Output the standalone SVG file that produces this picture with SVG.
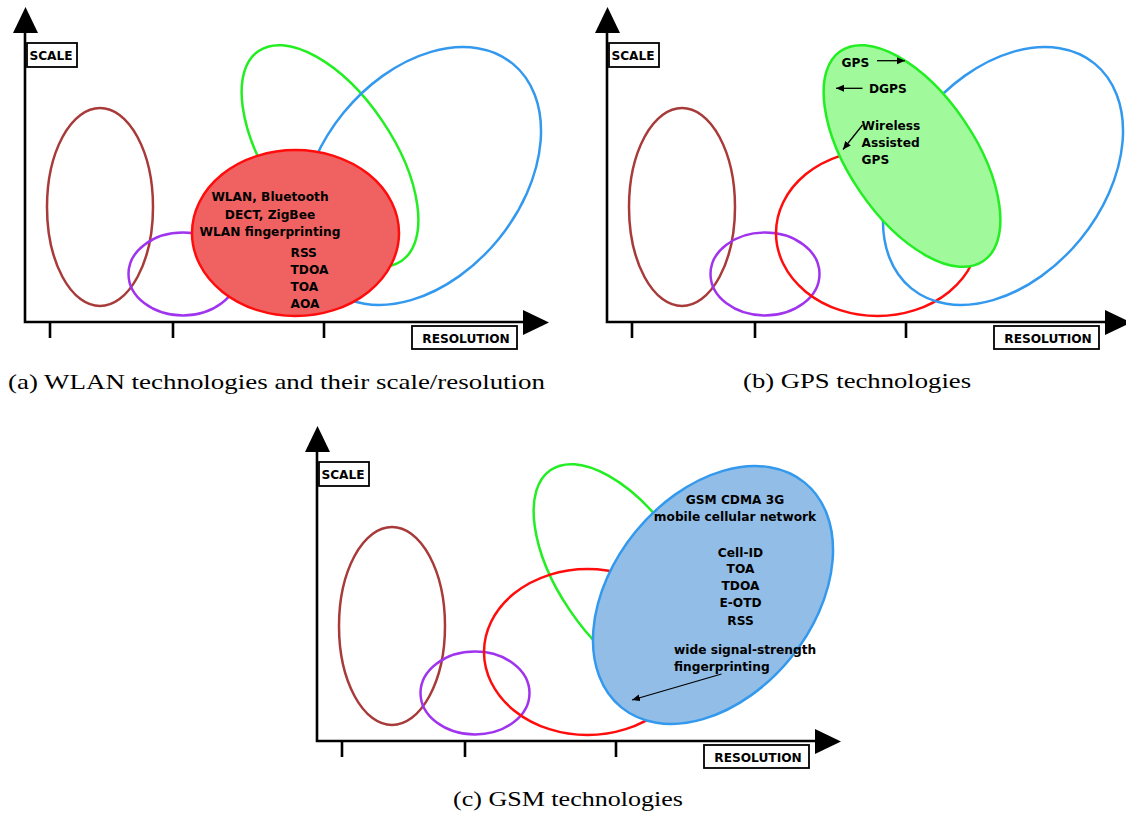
<svg xmlns="http://www.w3.org/2000/svg" width="1126" height="814" viewBox="0 0 1126 814">
  <style>
    .axis { stroke: #000; stroke-width: 2.6; fill: none; }
    .head { fill: #000; stroke: none; }
    .box { fill: #fff; stroke: #000; stroke-width: 1.8; }
    .lbl { font-family: "DejaVu Sans", "Liberation Sans", sans-serif; font-weight: bold; font-size: 12.2px; fill: #000; }
    .cap { font-family: "Liberation Serif", "DejaVu Serif", serif; font-size: 22px; fill: #000; }
    .e { fill: none; stroke-width: 2.5; }
    .brown { stroke: #a83a3a; }
    .purple { stroke: #a034ee; }
    .red { stroke: #ff0d0d; }
    .green { stroke: #22ee22; }
    .blue { stroke: #3399ee; }
    .ptr { stroke: #000; stroke-width: 1.3; fill: none; marker-end: url(#tip); }
  </style>
  <defs>
    <marker id="tip" markerUnits="userSpaceOnUse" markerWidth="9" markerHeight="8" refX="8" refY="3.5" orient="auto">
      <path d="M0,0 L8,3.5 L0,7 z" fill="#000"/>
    </marker>
    <!-- shared frame: axes, ticks and axis labels -->
    <g id="frame">
      <path class="axis" d="M25,32 V323 M23.7,322 H525 M50,322 V338 M173,322 V338 M324,322 V338"/>
      <path class="head" d="M13,33 L38,33 L25.5,7 z"/>
      <path class="head" d="M523,310 L523,335 L549,322.5 z"/>
      <rect class="box" x="27" y="43" width="50" height="24"/>
      <text class="lbl" x="51" y="60" text-anchor="middle">SCALE</text>
      <rect class="box" x="412" y="326" width="105" height="23"/>
      <text class="lbl" x="466" y="343" text-anchor="middle">RESOLUTION</text>
    </g>
  </defs>

  <!-- (a) WLAN -->
  <g id="panel-a">
    <use href="#frame"/>
    <ellipse id="a-brown" class="e brown" cx="100" cy="207" rx="53" ry="99"/>
    <ellipse id="a-purple" class="e purple" cx="183" cy="274" rx="54.5" ry="41.5"/>
    <ellipse id="a-green" class="e green" cx="330" cy="156" rx="127" ry="63" transform="rotate(55.8 330 156)"/>
    <ellipse id="a-blue" class="e blue" cx="421" cy="176" rx="145" ry="100" transform="rotate(-50.8 421 176)"/>
    <g id="a-wlan">
      <ellipse class="e red" cx="295.5" cy="233" rx="103.5" ry="83" style="fill:#f06262"/>
      <text class="lbl" x="270" y="201" text-anchor="middle">WLAN, Bluetooth</text>
      <text class="lbl" x="270" y="218.5" text-anchor="middle">DECT, ZigBee</text>
      <text class="lbl" x="270" y="235.5" text-anchor="middle">WLAN fingerprinting</text>
      <text class="lbl" x="290.5" y="256.5">RSS</text>
      <text class="lbl" x="290.5" y="273.5">TDOA</text>
      <text class="lbl" x="290.5" y="290.5">TOA</text>
      <text class="lbl" x="290.5" y="307.5">AOA</text>
    </g>
    <text class="cap" x="8" y="389" textLength="537" lengthAdjust="spacingAndGlyphs">(a) WLAN technologies and their scale/resolution</text>
  </g>

  <!-- (b) GPS -->
  <g id="panel-b">
    <g transform="translate(582,0)">
      <use href="#frame"/>
      <ellipse id="b-brown" class="e brown" cx="100" cy="207" rx="53" ry="99"/>
      <ellipse id="b-purple" class="e purple" cx="183" cy="274" rx="54.5" ry="41.5"/>
      <ellipse id="b-red" class="e red" cx="295.5" cy="233" rx="101.5" ry="83"/>
      <ellipse id="b-blue" class="e blue" cx="421" cy="176" rx="145" ry="100" transform="rotate(-50.8 421 176)"/>
      <ellipse id="b-gps" class="e green" cx="330" cy="156" rx="127" ry="63" transform="rotate(55.8 330 156)" style="fill:#a0fa9c"/>
    </g>
    <g id="b-labels">
      <text class="lbl" x="841.5" y="67">GPS</text>
      <line class="ptr" x1="877" y1="60.7" x2="905" y2="60.7"/>
      <text class="lbl" x="869" y="92.5">DGPS</text>
      <line class="ptr" x1="862.5" y1="88.3" x2="836" y2="88.3"/>
      <text class="lbl" x="861.5" y="130">Wireless</text>
      <text class="lbl" x="861.5" y="147">Assisted</text>
      <text class="lbl" x="861.5" y="164">GPS</text>
      <line class="ptr" x1="862.5" y1="125" x2="843" y2="149.5"/>
    </g>
    <text class="cap" x="743" y="388" textLength="228" lengthAdjust="spacingAndGlyphs">(b) GPS technologies</text>
  </g>

  <!-- (c) GSM -->
  <g id="panel-c">
    <g transform="translate(292,419)">
      <use href="#frame"/>
      <ellipse id="c-brown" class="e brown" cx="100" cy="207" rx="53" ry="99"/>
      <ellipse id="c-purple" class="e purple" cx="183" cy="274" rx="54.5" ry="41.5"/>
      <ellipse id="c-green" class="e green" cx="330" cy="156" rx="127" ry="63" transform="rotate(55.8 330 156)"/>
      <ellipse id="c-red" class="e red" cx="295.5" cy="233" rx="103.5" ry="83"/>
      <ellipse id="c-gsm" class="e blue" cx="421" cy="176" rx="145" ry="100" transform="rotate(-50.8 421 176)" style="fill:#92bde6"/>
    </g>
    <g id="c-labels">
      <text class="lbl" x="735" y="503.5" text-anchor="middle">GSM CDMA 3G</text>
      <text class="lbl" x="735" y="520.5" text-anchor="middle">mobile cellular network</text>
      <text class="lbl" x="740.5" y="556.5" text-anchor="middle">Cell-ID</text>
      <text class="lbl" x="740.5" y="573" text-anchor="middle">TOA</text>
      <text class="lbl" x="740.5" y="590" text-anchor="middle">TDOA</text>
      <text class="lbl" x="740.5" y="607" text-anchor="middle">E-OTD</text>
      <text class="lbl" x="740.5" y="624.5" text-anchor="middle">RSS</text>
      <text class="lbl" x="674" y="653.5">wide signal-strength</text>
      <text class="lbl" x="674" y="670.5">fingerprinting</text>
      <line class="ptr" x1="721.5" y1="674" x2="632" y2="700"/>
    </g>
    <text class="cap" x="453" y="806" textLength="230" lengthAdjust="spacingAndGlyphs">(c) GSM technologies</text>
  </g>
</svg>
